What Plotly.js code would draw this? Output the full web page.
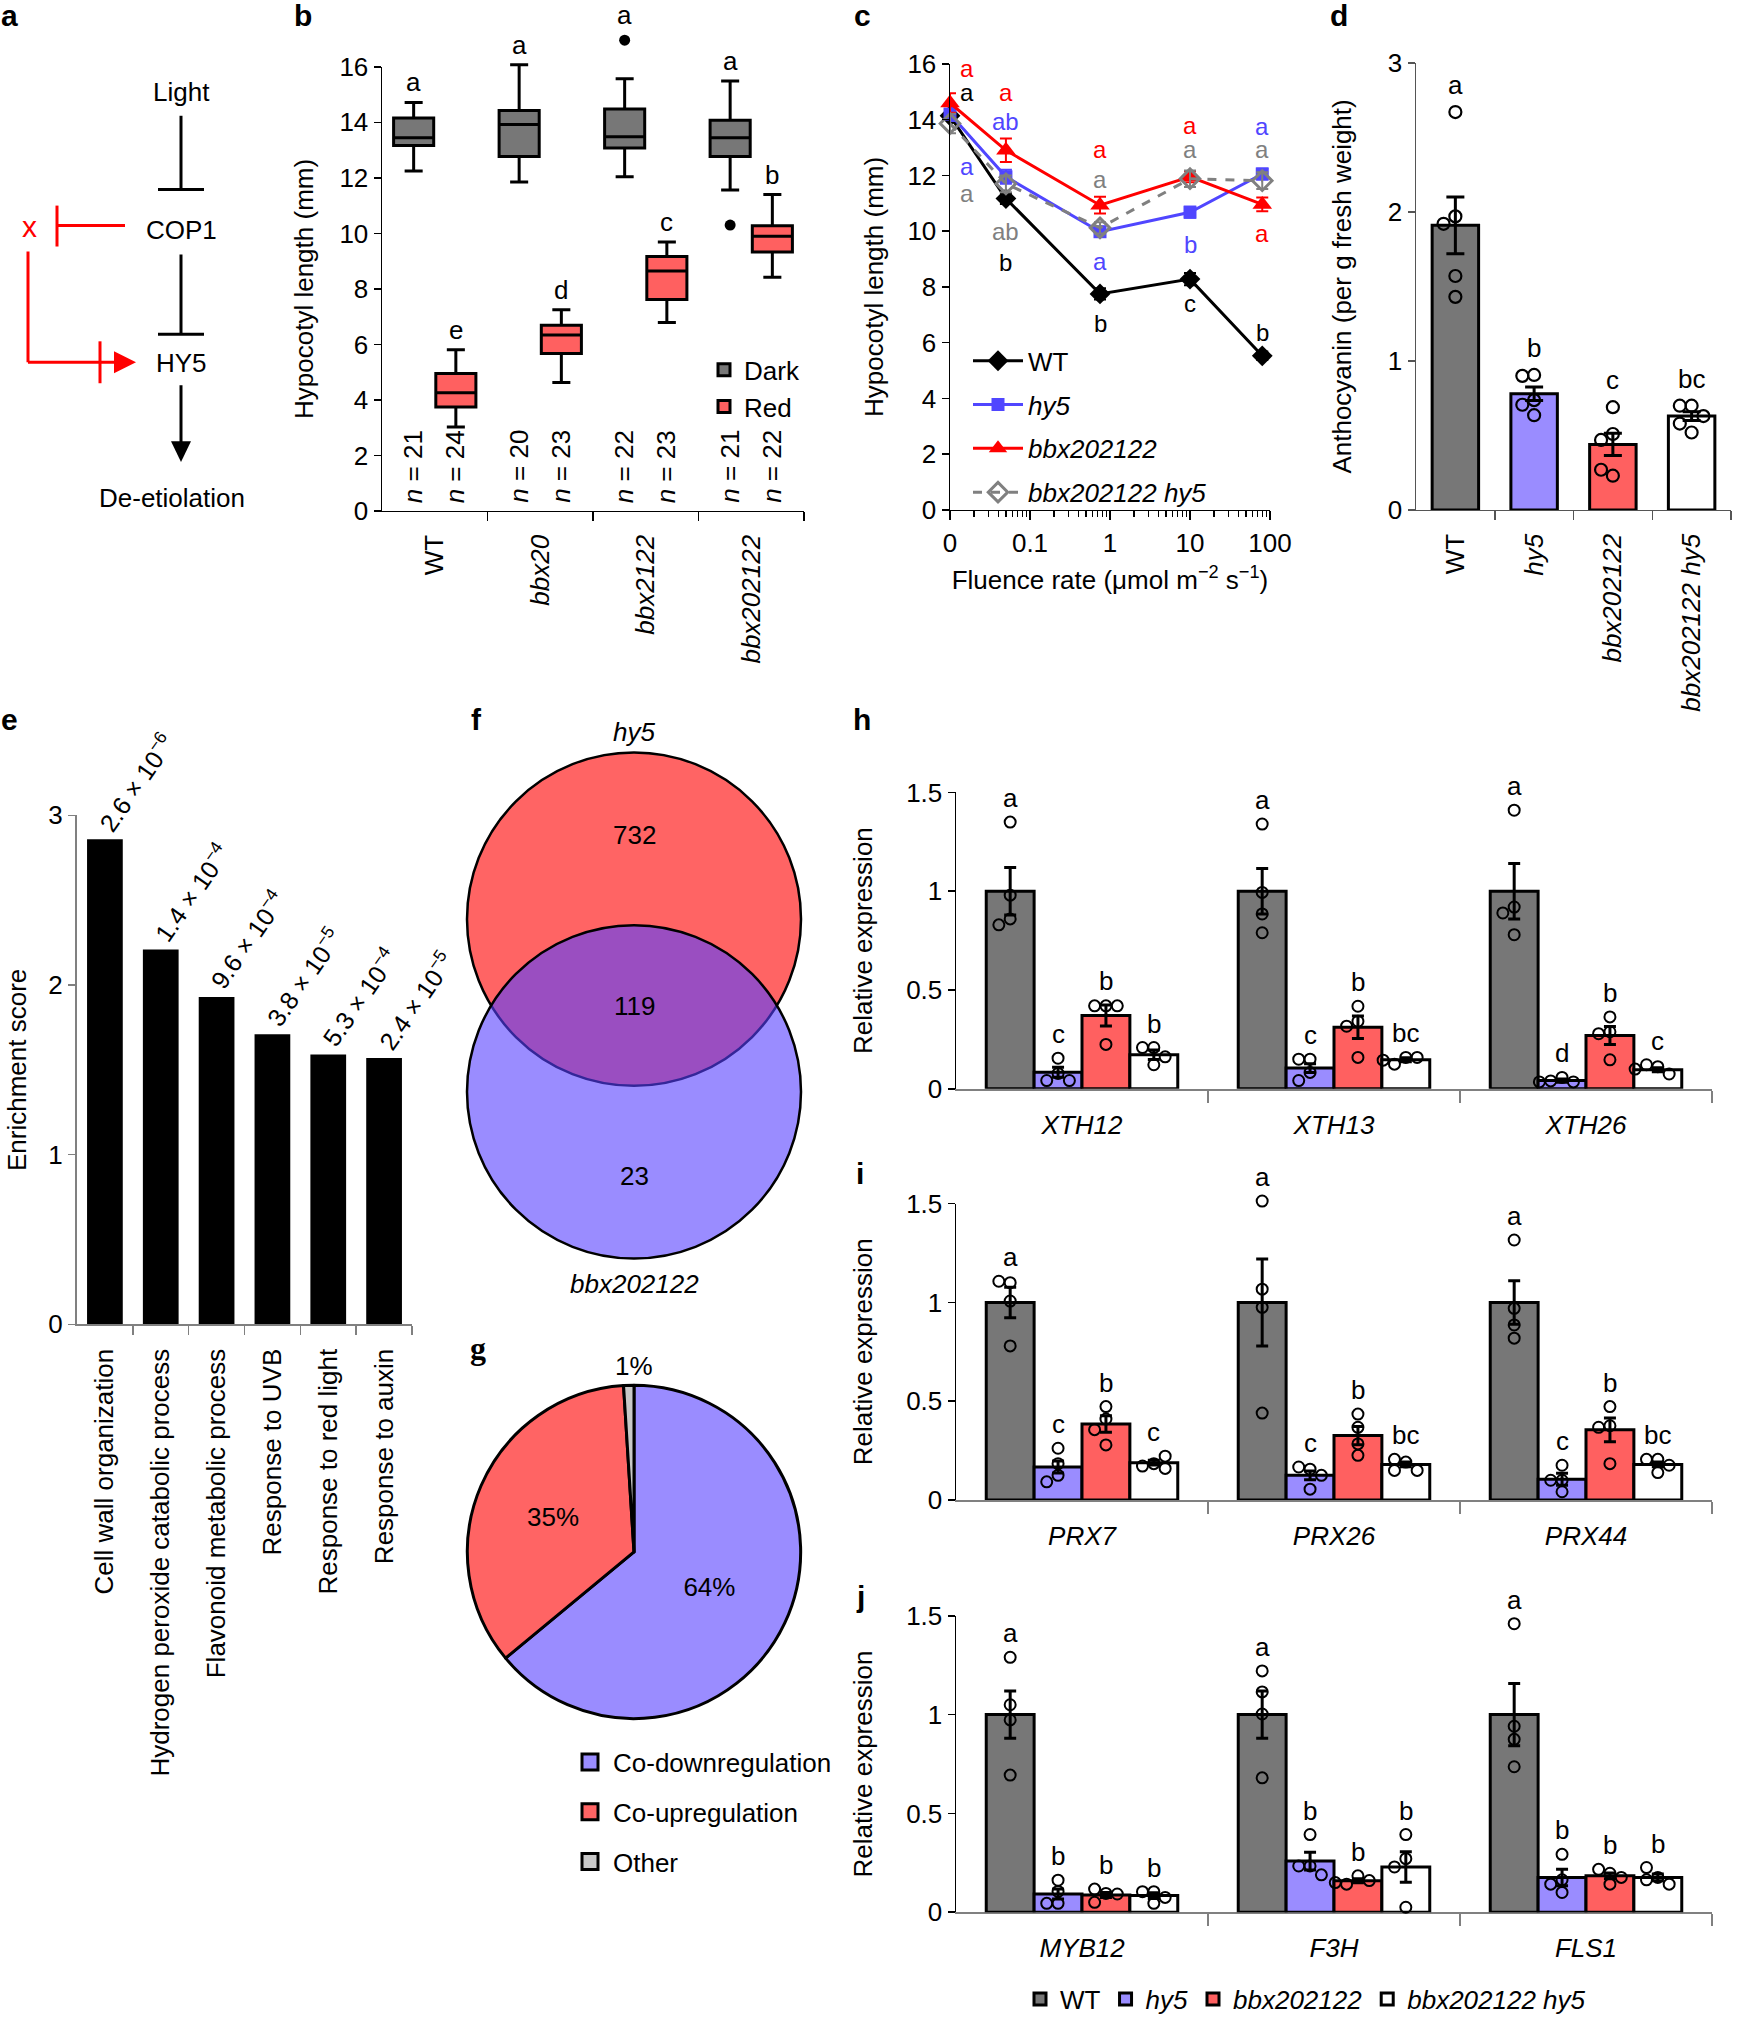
<!DOCTYPE html>
<html>
<head>
<meta charset="utf-8">
<script src="https://cdn.plot.ly/plotly-3.0.1.min.js"></script>
<style>html,body{margin:0;padding:0;background:#fff;}#chart{width:1737px;height:2023px;}</style>
</head>
<body>
<div id="chart"></div>
<script>
// ================= DATA =================
// panel b : hypocotyl length box plots
const bGenotypes = ['WT','bbx20','bbx2122','bbx202122'];
const bDarkQ1  = [13.17,12.77,13.08,12.77];
const bDarkMed = [13.45,13.92,13.48,13.45];
const bDarkQ3  = [14.16,14.43,14.48,14.08];
const bDarkMin = [12.25,11.85,12.04,11.56];
const bDarkMax = [14.72,16.08,15.57,15.49];
const bRedQ1   = [3.75,5.67,7.62,9.33];
const bRedMed  = [4.26,6.34,8.65,9.90];
const bRedQ3   = [4.95,6.69,9.17,10.28];
const bRedMin  = [3.03,4.63,6.79,8.42];
const bRedMax  = [5.81,7.25,9.69,11.40];
const bDarkOutlierGenotype = ['bbx2122','bbx202122'];
const bDarkOutlierValue = [16.96,10.30];
const bDarkLetters = ['a','a','a','a'];
const bRedLetters  = ['e','d','c','b'];
const bDarkN = [21,20,22,21];
const bRedN  = [24,23,23,22];

// panel c : fluence response
const cFluence   = [0,0.05,0.75,10,80];
const cAxisTicks = [0,0.1,1,10,100];
const cNames = ['WT','hy5','bbx202122','bbx202122 hy5'];
const cWT  = [14.14,11.17,7.75,8.28,5.53];
const cHy5 = [14.20,11.95,9.98,10.68,12.05];
const cBbx = [14.60,12.90,10.93,11.95,10.96];
const cDbl = [13.86,11.70,10.12,11.88,11.81];
const cWTse  = [0.25,0.20,0.20,0.22,0.15];
const cHy5se = [0.25,0.25,0.18,0.20,0.20];
const cBbxse = [0.35,0.42,0.30,0.20,0.25];
const cDblse = [0.35,0.30,0.20,0.30,0.30];
const cWTLetters  = ['a','b','b','c','b'];
const cHy5Letters = ['a','ab','a','b','a'];
const cBbxLetters = ['a','a','a','a','a'];
const cDblLetters = ['a','ab','a','a','a'];

// panel d : anthocyanin
const dGenotypes = ['WT','hy5','bbx202122','bbx202122 hy5'];
const dMean = [1.91,0.78,0.44,0.63];
const dSE   = [0.19,0.045,0.075,0.03];
const dPoints = [[2.67,1.97,1.92,1.57,1.43],[0.906,0.90,0.737,0.706,0.636],[0.69,0.51,0.47,0.23,0.27],[0.70,0.70,0.52,0.58,0.63]];
const dLetters = ['a','b','c','bc'];

// panel e : GO enrichment
const eTerms = ['Cell wall organization','Hydrogen peroxide catabolic process','Flavonoid metabolic process','Response to UVB','Response to red light','Response to auxin'];
const eScore = [2.86,2.21,1.93,1.71,1.59,1.57];
const ePMantissa = [2.6,1.4,9.6,3.8,5.3,2.4];
const ePExponent = [-6,-4,-4,-5,-4,-5];

// panel f : Venn
const vennSets = ['hy5','bbx202122'];
const vennCounts = [732,119,23];   // hy5 only, both, bbx202122 only

// panel g : pie
const pieLabels = ['Co-downregulation','Co-upregulation','Other'];
const pieValues = [64,35,1];

// panels h-j : relative expression (genotype x gene)
const exprGenotypes = ['WT','hy5','bbx202122','bbx202122 hy5'];
const hGenes = ['XTH12','XTH13','XTH26'];
const hMean = [[1.0,1.0,1.0],[0.084,0.105,0.042],[0.371,0.312,0.270],[0.172,0.147,0.097]];
const hSE   = [[0.12,0.115,0.14],[0.025,0.022,0.008],[0.053,0.057,0.046],[0.024,0.010,0.010]];
const hPts  = [
 [[1.35,0.98,0.86,0.83],[1.34,0.994,0.885,0.79],[1.41,0.92,0.89,0.78]],
 [[0.155,0.078,0.042,0.042],[0.15,0.15,0.083,0.042],[0.058,0.04,0.035,0.035]],
 [[0.42,0.42,0.42,0.225],[0.418,0.342,0.317,0.159],[0.364,0.289,0.279,0.147]],
 [[0.209,0.209,0.162,0.122],[0.159,0.125,0.159,0.145],[0.112,0.122,0.075,0.10]]];
const hLet = [['a','a','a'],['c','c','d'],['b','b','b'],['b','bc','c']];

const iGenes = ['PRX7','PRX26','PRX44'];
const iMean = [[1.0,1.0,1.0],[0.167,0.125,0.105],[0.385,0.326,0.355],[0.189,0.180,0.180]];
const iSE   = [[0.077,0.22,0.11],[0.03,0.022,0.03],[0.042,0.046,0.06],[0.012,0.012,0.012]];
const iPts  = [
 [[1.10,1.107,1.007,0.78],[1.513,1.067,0.975,0.44],[1.316,0.97,0.886,0.819]],
 [[0.262,0.184,0.125,0.092],[0.156,0.167,0.125,0.055],[0.10,0.176,0.10,0.042]],
 [[0.473,0.41,0.356,0.279],[0.435,0.368,0.284,0.226],[0.473,0.376,0.368,0.184]],
 [[0.184,0.172,0.222,0.16],[0.192,0.206,0.15,0.15],[0.206,0.206,0.139,0.176]]];
const iLet = [['a','a','a'],['c','c','c'],['b','b','b'],['c','bc','bc']];

const jGenes = ['MYB12','F3H','FLS1'];
const jMean = [[1.0,1.0,1.0],[0.092,0.259,0.176],[0.087,0.159,0.184],[0.084,0.229,0.176]];
const jSE   = [[0.12,0.12,0.157],[0.025,0.045,0.042],[0.013,0.01,0.015],[0.015,0.077,0.017]];
const jPts  = [
 [[1.29,1.05,0.973,0.694],[1.221,1.115,1.003,0.68],[1.46,0.941,0.875,0.736]],
 [[0.162,0.105,0.045,0.045],[0.393,0.234,0.234,0.189],[0.293,0.164,0.142,0.10]],
 [[0.095,0.05,0.092,0.117],[0.184,0.142,0.16,0.15],[0.197,0.217,0.176,0.142]],
 [[0.104,0.104,0.045,0.075],[0.393,0.271,0.229,0.025],[0.176,0.226,0.164,0.142]]];
const jLet = [['a','a','a'],['b','b','b'],['b','b','b'],['b','b','b']];

// ================= STYLE / LAYOUT =================
const W = 1737, H = 2023;
const X = p => p / W;
const Y = p => 1 - p / H;
const FONT = "'Liberation Sans', Arial, Helvetica, sans-serif";
const FS = 26;
const GENO_FILL = ['#777777','#9A8CFF','#FF6060','#FFFFFF'];
const LINE_COL  = ['#000000','#5046FF','#FF0000','#808080'];
const HEADROOM = 60; // px of room above an axis top for marks that exceed it

const traces = [], annotations = [], shapes = [];
function ann(o){ annotations.push(Object.assign({showarrow:false, xanchor:'center', yanchor:'middle', font:{family:FONT,size:FS,color:'#000'}}, o)); }
function baseAxis(extra){
  return Object.assign({showgrid:false, zeroline:false, showline:true, linecolor:'#000', linewidth:1.5,
    ticks:'outside', ticklen:7, tickwidth:1.5, tickcolor:'#000', fixedrange:true,
    tickfont:{family:FONT,size:FS,color:'#000'}}, extra);
}
// hidden axis with identical scale as the visible one but extra headroom on top
function dataAxis(anchor, topPx, botPx, r0, r1){
  return {visible:false, showgrid:false, zeroline:false, fixedrange:true, anchor:anchor,
    domain:[Y(botPx), Y(topPx-HEADROOM)], range:[r0, r1 + (r1-r0)*HEADROOM/(botPx-topPx)]};
}
function jitter(vals, thr, step){
  const slots = [], order = [0,-1,1,-2,2,-3,3];
  return vals.map((v,i)=>{
    const used = new Set();
    for(let j=0;j<i;j++) if(Math.abs(vals[j]-v) < thr) used.add(slots[j]);
    const s = order.find(o=>!used.has(o)); slots.push(s); return s*step;
  });
}
const it = s => '<i>'+s+'</i>';
const geneLabel = g => g==='WT' ? 'WT' : it(g);

// ---------- panel labels ----------
[['a',9,16],['b',303,16],['c',862,16],['d',1339,16],['e',9,721],['f',477,721],['h',862,721],['i',860,1176],['j',860,1600]]
 .forEach(([t,x,y])=>ann({xref:'paper',yref:'paper',x:X(x),y:Y(y),text:'<b>'+t+'</b>',font:{family:FONT,size:30,color:'#000'}}));
ann({xref:'paper',yref:'paper',x:X(478),y:Y(1351),text:'<b>g</b>',font:{family:"'Liberation Serif', 'Times New Roman', serif",size:32,color:'#000'}});

// ---------- panel a : diagram ----------
const BL = {color:'#000',width:3}, RD = {color:'#FF0000',width:3};
function seg(x0,y0,x1,y1,l){ shapes.push({type:'line',xref:'paper',yref:'paper',x0:X(x0),y0:Y(y0),x1:X(x1),y1:Y(y1),line:l}); }
function tri(pts,c){ shapes.push({type:'path',xref:'paper',yref:'paper',path:'M '+pts.map(p=>X(p[0])+' '+Y(p[1])).join(' L ')+' Z',fillcolor:c,line:{width:0}}); }
ann({xref:'paper',yref:'paper',x:X(181),y:Y(92),text:'Light'});
seg(181,116,181,190,BL); seg(158,190,204,190,BL);
ann({xref:'paper',yref:'paper',x:X(181),y:Y(230),text:'COP1'});
seg(181,255,181,335,BL); seg(158,335,204,335,BL);
ann({xref:'paper',yref:'paper',x:X(181),y:Y(364),text:'HY5'});
seg(181,386,181,446,BL); tri([[181,463],[171,442],[191,442]],'#000');
ann({xref:'paper',yref:'paper',x:X(172),y:Y(499),text:'De-etiolation'});
ann({xref:'paper',yref:'paper',x:X(29),y:Y(227),text:'x',font:{family:FONT,size:30,color:'#FF0000'}});
seg(57,226,125,226,RD); seg(57,206,57,247,RD);
seg(28,252,28,363,RD); seg(28,363,118,363,RD); seg(100,342,100,384,RD);
tri([[136,363],[114,352],[114,374]],'#FF0000');

// dummy traces so the visible (axis-only) subplots exist
[['x','y'],['x5','y5'],['x6','y6'],['x7','y7']].forEach(([xa,ya])=>traces.push({type:'scatter',mode:'markers',x:[null],y:[null],xaxis:xa,yaxis:ya,showlegend:false,hoverinfo:'skip'}));

// ---------- panel b ----------
const bIdx = bGenotypes.map((_,i)=>i);
traces.push({type:'box',name:'Dark',x:bIdx.map(i=>i-0.2),q1:bDarkQ1,median:bDarkMed,q3:bDarkQ3,lowerfence:bDarkMin,upperfence:bDarkMax,
  fillcolor:'#777777',line:{color:'#000',width:3},width:0.38,whiskerwidth:0.45,boxpoints:false,xaxis:'x',yaxis:'y8',legend:'legend',legendgroup:'dark',hoverinfo:'skip'});
traces.push({type:'box',name:'Red',x:bIdx.map(i=>i+0.2),q1:bRedQ1,median:bRedMed,q3:bRedQ3,lowerfence:bRedMin,upperfence:bRedMax,
  fillcolor:'#FF6060',line:{color:'#000',width:3},width:0.38,whiskerwidth:0.45,boxpoints:false,xaxis:'x',yaxis:'y8',legend:'legend',legendgroup:'red',hoverinfo:'skip'});
traces.push({type:'scatter',mode:'markers',x:bDarkOutlierGenotype.map(g=>bGenotypes.indexOf(g)-0.2),y:bDarkOutlierValue,
  marker:{color:'#000',size:11},xaxis:'x',yaxis:'y8',showlegend:false,cliponaxis:false,hoverinfo:'skip'});
bIdx.forEach(i=>{
  let top = bDarkMax[i];
  bDarkOutlierGenotype.forEach((g,k)=>{ if(bGenotypes.indexOf(g)===i && bDarkOutlierValue[k]>top) top=bDarkOutlierValue[k]; });
  ann({xref:'x',yref:'y8',x:i-0.2,y:top,yanchor:'bottom',yshift:top>bDarkMax[i]?8:3,text:bDarkLetters[i]});
  ann({xref:'x',yref:'y8',x:i+0.2,y:bRedMax[i],yanchor:'bottom',yshift:3,text:bRedLetters[i]});
  ann({xref:'x',yref:'y8',x:i-0.2,y:0,yanchor:'bottom',yshift:6,textangle:-90,text:'<i>n</i> = '+bDarkN[i]});
  ann({xref:'x',yref:'y8',x:i+0.2,y:0,yanchor:'bottom',yshift:6,textangle:-90,text:'<i>n</i> = '+bRedN[i]});
});

// ---------- panel c ----------
const fluenceToAxis = v => v===0 ? 0.01 : v;
const cSeries = [
  {y:cWT, se:cWTse, let:cWTLetters, sym:'diamond', size:16, dash:'solid'},
  {y:cHy5,se:cHy5se,let:cHy5Letters,sym:'square', size:13, dash:'solid'},
  {y:cBbx,se:cBbxse,let:cBbxLetters,sym:'triangle-up', size:17, dash:'solid'},
  {y:cDbl,se:cDblse,let:cDblLetters,sym:'diamond-open', size:15, dash:'dash'}];
// letter anchor heights (label placement)
const cLabelY = [[14.98,8.87,6.70,7.39,6.38],[12.32,13.93,8.92,9.52,13.76],[15.83,14.98,12.94,13.78,9.90],[11.36,10.0,11.84,12.94,12.94]];
cSeries.forEach((s,k)=>{
  traces.push({type:'scatter',mode:'lines+markers',name:geneLabel(cNames[k]),x:cFluence.map(fluenceToAxis),y:s.y,
    error_y:{type:'data',array:s.se,thickness:2,width:6,color:LINE_COL[k]},
    line:{color:LINE_COL[k],width:3,dash:s.dash},
    marker:{symbol:s.sym,size:s.size,color:LINE_COL[k],line:{width:s.sym.indexOf('open')>=0?3:0,color:LINE_COL[k]}},
    xaxis:'x2',yaxis:'y2',legend:'legend2',legendgroup:'c'+k,cliponaxis:false,hoverinfo:'skip'});
  s.let.forEach((t,i)=>ann({xref:'x2',yref:'y2',x:Math.log10(fluenceToAxis(cFluence[i])),y:cLabelY[k][i],xshift:i===0?17:0,text:t,font:{family:FONT,size:24,color:LINE_COL[k]}}));
});
const cMinor = [];
[0.01,0.1,1,10].forEach(d=>{ for(let m=2;m<=9;m++) cMinor.push(d*m); });

// ---------- panel d ----------
traces.push({type:'bar',x:dGenotypes.map((_,i)=>i),y:dMean,width:0.59,marker:{color:GENO_FILL,line:{color:'#000',width:3}},
  error_y:{type:'data',array:dSE,thickness:3,width:9,color:'#000'},xaxis:'x3',yaxis:'y3',showlegend:false,hoverinfo:'skip'});
(function(){
  const xs=[], ys=[];
  dPoints.forEach((pts,i)=>{ const jo=jitter(pts,0.08,0.15); pts.forEach((v,n)=>{xs.push(i+jo[n]); ys.push(v);}); });
  traces.push({type:'scatter',mode:'markers',x:xs,y:ys,marker:{symbol:'circle-open',size:12,color:'#000',line:{width:2.2}},
    xaxis:'x3',yaxis:'y3',showlegend:false,cliponaxis:false,hoverinfo:'skip'});
})();
dGenotypes.forEach((g,i)=>{
  const top = Math.max(Math.max(...dPoints[i]), dMean[i]+dSE[i]);
  ann({xref:'x3',yref:'y3',x:i,y:top,yanchor:'bottom',yshift:10,text:dLetters[i]});
});

// ---------- panel e ----------
traces.push({type:'bar',x:eTerms.map((_,i)=>i),y:eScore,width:0.64,marker:{color:'#000'},xaxis:'x4',yaxis:'y4',showlegend:false,hoverinfo:'skip'});
eScore.forEach((v,i)=>ann({xref:'x4',yref:'y4',x:i-0.3,y:v,xanchor:'left',yanchor:'bottom',textangle:-55,
  text:ePMantissa[i].toFixed(1)+' × 10<sup>−'+(-ePExponent[i])+'</sup>',font:{family:FONT,size:25,color:'#000'}}));

// ---------- panel f : Venn ----------
const vCx = 634, vR = 167, vTopCy = 921, vBotCy = 1094;
shapes.push({type:'circle',xref:'paper',yref:'paper',x0:X(vCx-vR),x1:X(vCx+vR),y0:Y(vTopCy-vR),y1:Y(vTopCy+vR),fillcolor:'#FF6464',line:{color:'#000',width:2.5},layer:'above'});
shapes.push({type:'circle',xref:'paper',yref:'paper',x0:X(vCx-vR),x1:X(vCx+vR),y0:Y(vBotCy-vR),y1:Y(vBotCy+vR),fillcolor:'rgba(87,63,255,0.6)',line:{color:'#000',width:2.5},layer:'above'});
ann({xref:'paper',yref:'paper',x:X(vCx),y:Y(733),text:it(vennSets[0])});
ann({xref:'paper',yref:'paper',x:X(vCx),y:Y(1287),text:it(vennSets[1])});
ann({xref:'paper',yref:'paper',x:X(vCx),y:Y(837),text:String(vennCounts[0])});
ann({xref:'paper',yref:'paper',x:X(vCx),y:Y(1008),text:String(vennCounts[1])});
ann({xref:'paper',yref:'paper',x:X(vCx),y:Y(1178),text:String(vennCounts[2])});

// ---------- panel g : pie ----------
const PIE_COL = ['#9A8CFF','#FF6464','#C8C8C8'];
const pieCx = 634, pieCy = 1555, pieR = 167;
traces.push({type:'pie',labels:pieLabels,values:pieValues,sort:false,direction:'clockwise',rotation:0,
  marker:{colors:PIE_COL,line:{color:'#000',width:3}},textinfo:'percent',textposition:['inside','inside','none'],
  insidetextorientation:'horizontal',textfont:{family:FONT,size:FS,color:'#000'},insidetextfont:{family:FONT,size:FS,color:'#000'},
  domain:{x:[X(pieCx-pieR),X(pieCx+pieR)],y:[Y(pieCy+pieR),Y(pieCy-pieR)]},showlegend:false,hoverinfo:'none'});
(function(){
  const tot = pieValues.reduce((a,b)=>a+b,0);
  ann({xref:'paper',yref:'paper',x:X(pieCx),y:Y(pieCy-pieR),yanchor:'bottom',yshift:2,text:Math.round(pieValues[2]/tot*100)+'%'});
})();
pieLabels.forEach((lab,k)=>traces.push({type:'scatter',mode:'markers',x:[null],y:[null],name:lab,xaxis:'x',yaxis:'y',
  legend:'legend3',legendgroup:'pie'+k,marker:{symbol:'square',size:16,color:PIE_COL[k],line:{color:'#000',width:3}},hoverinfo:'skip'}));

// ---------- panels h, i, j ----------
const BW = 0.19, BOFF = [-1.5,-0.5,0.5,1.5].map(k=>k*BW);
function exprPanel(xa, ya, genes, mean, se, pts, lets, legendOn){
  exprGenotypes.forEach((g,k)=>{
    traces.push({type:'bar',name:geneLabel(g),x:genes.map((_,i)=>i+BOFF[k]),y:mean[k],width:BW,
      marker:{color:GENO_FILL[k],line:{color:'#000',width:3}},
      error_y:{type:'data',array:se[k],thickness:3,width:6,color:'#000'},
      xaxis:xa,yaxis:ya,showlegend:legendOn,legend:'legend4',legendgroup:'g'+k,hoverinfo:'skip'});
  });
  exprGenotypes.forEach((g,k)=>{
    const xs=[], ys=[];
    genes.forEach((_,i)=>{ const jo=jitter(pts[k][i],0.055,0.045); pts[k][i].forEach((v,m)=>{xs.push(i+BOFF[k]+jo[m]); ys.push(v);}); });
    traces.push({type:'scatter',mode:'markers',x:xs,y:ys,marker:{symbol:'circle-open',size:11,color:'#000',line:{width:2}},
      xaxis:xa,yaxis:ya,showlegend:false,cliponaxis:false,hoverinfo:'skip'});
    genes.forEach((_,i)=>{
      const top = Math.max(Math.max(...pts[k][i]), mean[k][i]+se[k][i]);
      ann({xref:xa,yref:ya,x:i+BOFF[k],y:top,yanchor:'bottom',yshift:7,text:lets[k][i]});
    });
  });
}
exprPanel('x5','y9', hGenes,hMean,hSE,hPts,hLet,true);
exprPanel('x6','y10',iGenes,iMean,iSE,iPts,iLet,false);
exprPanel('x7','y11',jGenes,jMean,jSE,jPts,jLet,false);

// ---------- axes ----------
const layout = {
  width:W, height:H, margin:{l:0,r:0,t:0,b:0}, paper_bgcolor:'#fff', plot_bgcolor:'rgba(0,0,0,0)',
  font:{family:FONT,size:FS,color:'#000'}, hovermode:false, barmode:'overlay', showlegend:true,
  xaxis: baseAxis({domain:[X(382),X(804)],range:[-0.5,3.5],anchor:'y',tickvals:bIdx,ticktext:bGenotypes.map(geneLabel),
    tickangle:-90,ticks:'',ticklabelstandoff:12,minor:{tickmode:'array',tickvals:[0.5,1.5,2.5,3.5],ticks:'outside',ticklen:9,tickwidth:1.5,tickcolor:'#000'}}),
  yaxis: baseAxis({domain:[Y(512),Y(67)],range:[0,16],dtick:2,anchor:'x',title:{text:'Hypocotyl length (mm)',font:{size:FS},standoff:18}}),
  yaxis8: dataAxis('x',67,512,0,16),
  xaxis2: baseAxis({type:'log',domain:[X(950),X(1270)],range:[-2,2],anchor:'y2',tickvals:cAxisTicks.map(fluenceToAxis),
    ticktext:cAxisTicks.map(String),ticklen:9,minor:{tickmode:'array',tickvals:cMinor,ticks:'outside',ticklen:6,tickwidth:1.2,tickcolor:'#000'},
    title:{text:'Fluence rate (μmol m<sup>−2</sup> s<sup>−1</sup>)',font:{size:FS},standoff:14}}),
  yaxis2: baseAxis({domain:[Y(511),Y(64)],range:[0,16],dtick:2,anchor:'x2',title:{text:'Hypocotyl length (mm)',font:{size:FS},standoff:16}}),
  xaxis3: baseAxis({domain:[X(1416),X(1731)],range:[-0.5,3.5],anchor:'y3',tickvals:[0,1,2,3],ticktext:dGenotypes.map(geneLabel),
    tickangle:-90,ticks:'',ticklabelstandoff:12,linecolor:'#555',minor:{tickmode:'array',tickvals:[0.5,1.5,2.5,3.5],ticks:'outside',ticklen:9,tickwidth:1.5,tickcolor:'#555'}}),
  yaxis3: baseAxis({domain:[Y(511),Y(63)],range:[0,3],dtick:1,anchor:'x3',linecolor:'#555',tickcolor:'#555',title:{text:'Anthocyanin (per g fresh weight)',font:{size:FS},standoff:28}}),
  xaxis4: baseAxis({domain:[X(77),X(412)],range:[-0.5,5.5],anchor:'y4',tickvals:[0,1,2,3,4,5],ticktext:eTerms,tickangle:-90,ticks:'',
    ticklabelstandoff:12,linecolor:'#808080',linewidth:2,minor:{tickmode:'array',tickvals:[0.5,1.5,2.5,3.5,4.5,5.5],ticks:'outside',ticklen:9,tickwidth:1.5,tickcolor:'#808080'}}),
  yaxis4: baseAxis({domain:[Y(1327),Y(817)],range:[0,3],dtick:1,anchor:'x4',linecolor:'#808080',linewidth:2,tickcolor:'#808080',
    title:{text:'Enrichment score',font:{size:FS},standoff:14}}),
  legend: {x:X(704),y:Y(347),xanchor:'left',yanchor:'top',bgcolor:'rgba(0,0,0,0)',font:{size:FS},tracegroupgap:0,itemwidth:30},
  legend2:{x:X(968),y:Y(338),xanchor:'left',yanchor:'top',bgcolor:'rgba(0,0,0,0)',font:{size:FS},tracegroupgap:7,itemwidth:50},
  legend3:{x:X(567),y:Y(1742),xanchor:'left',yanchor:'top',bgcolor:'rgba(0,0,0,0)',font:{size:FS},tracegroupgap:13,itemwidth:36},
  legend4:{x:X(1020),y:Y(2003),xanchor:'left',yanchor:'middle',orientation:'h',bgcolor:'rgba(0,0,0,0)',font:{size:FS},itemwidth:30},
  annotations:annotations, shapes:shapes
};
[[5,9,hGenes,794,1091],[6,10,iGenes,1206,1503],[7,11,jGenes,1619,1916]].forEach(([n,m,genes,yt,yb])=>{
  layout['xaxis'+n] = baseAxis({domain:[X(956),X(1712)],range:[-0.5,2.5],anchor:'y'+n,tickvals:[0,1,2],ticktext:genes.map(it),ticks:'',
    ticklabelstandoff:12,linecolor:'#808080',linewidth:2,minor:{tickmode:'array',tickvals:[0.5,1.5,2.5],ticks:'outside',ticklen:12,tickwidth:1.5,tickcolor:'#808080'}});
  layout['yaxis'+n] = baseAxis({domain:[Y(yb),Y(yt)],range:[0,1.5],anchor:'x'+n,tickvals:[0,0.5,1,1.5],ticktext:['0','0.5','1','1.5'],
    title:{text:'Relative expression',font:{size:FS},standoff:26}});
  layout['yaxis'+m] = dataAxis('x'+n,yt,yb,0,1.5);
});

Plotly.newPlot('chart', traces, layout, {staticPlot:true, displayModeBar:false});
</script>
</body>
</html>
